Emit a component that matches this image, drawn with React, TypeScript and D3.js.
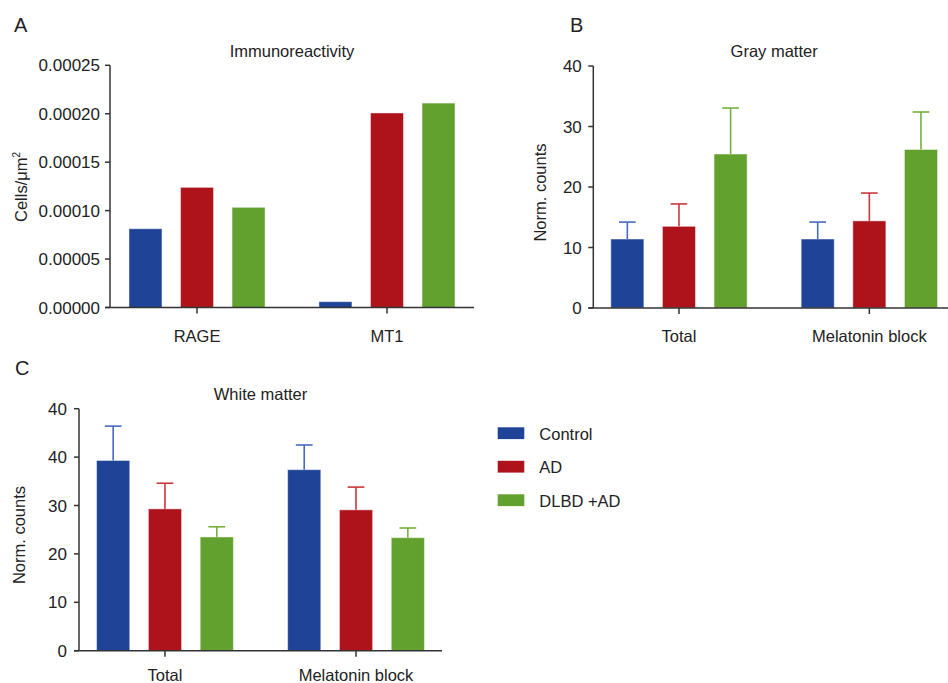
import React from "react";
import * as d3 from "d3";

const seriesNames = ["Control", "AD", "DLBD +AD"];
const seriesColors = ["#1f4396", "#ae131c", "#63a12e"];
const errorColors = ["#4668c0", "#c8383c", "#74b03e"];

// Panel A – Immunoreactivity
const immunoCategories = ["RAGE", "MT1"];
const immunoControl = [0.0000813, 0.000006];
const immunoAD = [0.000124, 0.0002008];
const immunoDLBD = [0.0001034, 0.000211];
const immunoTicks = [0, 0.00005, 0.0001, 0.00015, 0.0002, 0.00025];
const immunoTickLabels = ["0.00000", "0.00005", "0.00010", "0.00015", "0.00020", "0.00025"];

// Panel B – Gray matter
const grayCategories = ["Total", "Melatonin block"];
const grayControl = [11.4, 11.4];
const grayAD = [13.5, 14.4];
const grayDLBD = [25.45, 26.2];
const grayControlErr = [2.8, 2.8];
const grayADErr = [3.7, 4.6];
const grayDLBDErr = [7.6, 6.2];
const grayTicks = [0, 10, 20, 30, 40];
const grayTickLabels = ["0", "10", "20", "30", "40"];

// Panel C – White matter
const whiteCategories = ["Total", "Melatonin block"];
const whiteControl = [39.3, 37.4];
const whiteAD = [29.3, 29.1];
const whiteDLBD = [23.5, 23.35];
const whiteControlErr = [7.1, 5.1];
const whiteADErr = [5.3, 4.7];
const whiteDLBDErr = [2.1, 2.0];
const whiteTicks = [0, 10, 20, 30, 40, 50];
const whiteTickLabels = ["0", "10", "20", "30", "40", "40"];

const FONT = "'Liberation Sans', Arial, sans-serif";
const TXT = "#222";
const AXIS = "#333";

type PanelProps = {
  left: number;
  right: number;
  top: number;
  bottom: number;
  yMax: number;
  ticks: number[];
  tickLabels: string[];
  categories: string[];
  values: number[][];
  errors?: number[][];
  title: string;
  titleY: number;
  letter: string;
  letterX: number;
  letterY: number;
  yLabel: React.ReactNode;
  yLabelX: number;
  yLabelY: number;
  labelGap: number;
  xLabelY: number;
  paddingOuter: number;
};

function Panel(p: PanelProps) {
  const y = d3.scaleLinear().domain([0, p.yMax]).range([p.bottom, p.top]);
  const x0 = d3
    .scaleBand<string>()
    .domain(p.categories)
    .range([p.left, p.right])
    .paddingInner(0.284)
    .paddingOuter(p.paddingOuter);
  const x1 = d3
    .scaleBand<string>()
    .domain(seriesNames)
    .range([0, x0.bandwidth()])
    .paddingInner(0.36)
    .paddingOuter(0);
  const capW = 16.7;
  return (
    <g>
      <text x={p.letterX} y={p.letterY} fontSize={20} fill={TXT} fontFamily={FONT}>
        {p.letter}
      </text>
      <text
        x={(p.left + p.right) / 2}
        y={p.titleY}
        fontSize={16.5}
        fill={TXT}
        fontFamily={FONT}
        textAnchor="middle"
      >
        {p.title}
      </text>
      <text
        transform={`translate(${p.yLabelX},${p.yLabelY}) rotate(-90)`}
        fontSize={16.5}
        fill={TXT}
        fontFamily={FONT}
        textAnchor="middle"
      >
        {p.yLabel}
      </text>
      {p.categories.map((c, ci) => (
        <g key={c}>
          {seriesNames.map((s, si) => {
            const v = p.values[si][ci];
            const bx = (x0(c) as number) + (x1(s) as number);
            const bw = x1.bandwidth();
            const err = p.errors ? p.errors[si][ci] : null;
            return (
              <g key={s}>
                <rect
                  x={bx}
                  y={y(v)}
                  width={bw}
                  height={p.bottom - y(v)}
                  fill={seriesColors[si]}
                  stroke="rgba(255,255,255,0.45)"
                  strokeWidth={1}
                />
                {err !== null && (
                  <g stroke={errorColors[si]} strokeWidth={1.6}>
                    <line x1={bx + bw / 2} x2={bx + bw / 2} y1={y(v)} y2={y(v + err)} />
                    <line
                      x1={bx + bw / 2 - capW / 2}
                      x2={bx + bw / 2 + capW / 2}
                      y1={y(v + err)}
                      y2={y(v + err)}
                    />
                  </g>
                )}
              </g>
            );
          })}
        </g>
      ))}
      {/* y axis */}
      <line x1={p.left} x2={p.left} y1={p.top} y2={p.bottom} stroke={AXIS} strokeWidth={1.5} />
      {p.ticks.map((t, i) => (
        <g key={i}>
          <line x1={p.left - 5} x2={p.left} y1={y(t)} y2={y(t)} stroke={AXIS} strokeWidth={1.5} />
          <text
            x={p.left - p.labelGap}
            y={y(t)}
            dy="0.36em"
            fontSize={17}
            fill={TXT}
            fontFamily={FONT}
            textAnchor="end"
          >
            {p.tickLabels[i]}
          </text>
        </g>
      ))}
      {/* x axis */}
      <line x1={p.left - 5} x2={p.right} y1={p.bottom} y2={p.bottom} stroke={AXIS} strokeWidth={1.5} />
      {p.categories.map((c) => {
        const cx = (x0(c) as number) + x0.bandwidth() / 2;
        return (
          <g key={c}>
            <line x1={cx} x2={cx} y1={p.bottom} y2={p.bottom + 6} stroke={AXIS} strokeWidth={1.5} />
            <text
              x={cx}
              y={p.xLabelY}
              fontSize={16.5}
              fill={TXT}
              fontFamily={FONT}
              textAnchor="middle"
            >
              {c}
            </text>
          </g>
        );
      })}
    </g>
  );
}

export default function App() {
  return (
    <svg
      width={948}
      height={683}
      style={{ position: "absolute", left: 0, top: 0, background: "#fff" }}
    >
      <rect width={948} height={683} fill="#fff" />
      <Panel
        left={110}
        right={474}
        top={65.3}
        bottom={307.5}
        yMax={0.00025}
        ticks={immunoTicks}
        tickLabels={immunoTickLabels}
        categories={immunoCategories}
        values={[immunoControl, immunoAD, immunoDLBD]}
        title="Immunoreactivity"
        titleY={57}
        letter="A"
        letterX={14}
        letterY={32}
        yLabel={
          <>
            Cells/μm<tspan dy={-7} fontSize={10}>2</tspan>
          </>
        }
        yLabelX={27}
        yLabelY={187}
        labelGap={10}
        xLabelY={342}
        paddingOuter={0.1}
      />
      <Panel
        left={593.3}
        right={955}
        top={66}
        bottom={308}
        yMax={40}
        ticks={grayTicks}
        tickLabels={grayTickLabels}
        categories={grayCategories}
        values={[grayControl, grayAD, grayDLBD]}
        errors={[grayControlErr, grayADErr, grayDLBDErr]}
        title="Gray matter"
        titleY={57}
        letter="B"
        letterX={570}
        letterY={32}
        yLabel="Norm. counts"
        yLabelX={546}
        yLabelY={192.5}
        labelGap={11.5}
        xLabelY={342}
        paddingOuter={0.092}
      />
      <Panel
        left={79}
        right={442}
        top={408.7}
        bottom={650.7}
        yMax={50}
        ticks={whiteTicks}
        tickLabels={whiteTickLabels}
        categories={whiteCategories}
        values={[whiteControl, whiteAD, whiteDLBD]}
        errors={[whiteControlErr, whiteADErr, whiteDLBDErr]}
        title="White matter"
        titleY={400}
        letter="C"
        letterX={15}
        letterY={375}
        yLabel="Norm. counts"
        yLabelX={24.5}
        yLabelY={535}
        labelGap={12}
        xLabelY={681}
        paddingOuter={0.092}
      />
      {seriesNames.map((s, i) => (
        <g key={s}>
          <rect x={497.7} y={427.3 + i * 33.5} width={26.6} height={11.8} fill={seriesColors[i]} />
          <text x={539.3} y={440 + i * 33.3} fontSize={16.5} fill={TXT} fontFamily={FONT}>
            {s}
          </text>
        </g>
      ))}
    </svg>
  );
}
